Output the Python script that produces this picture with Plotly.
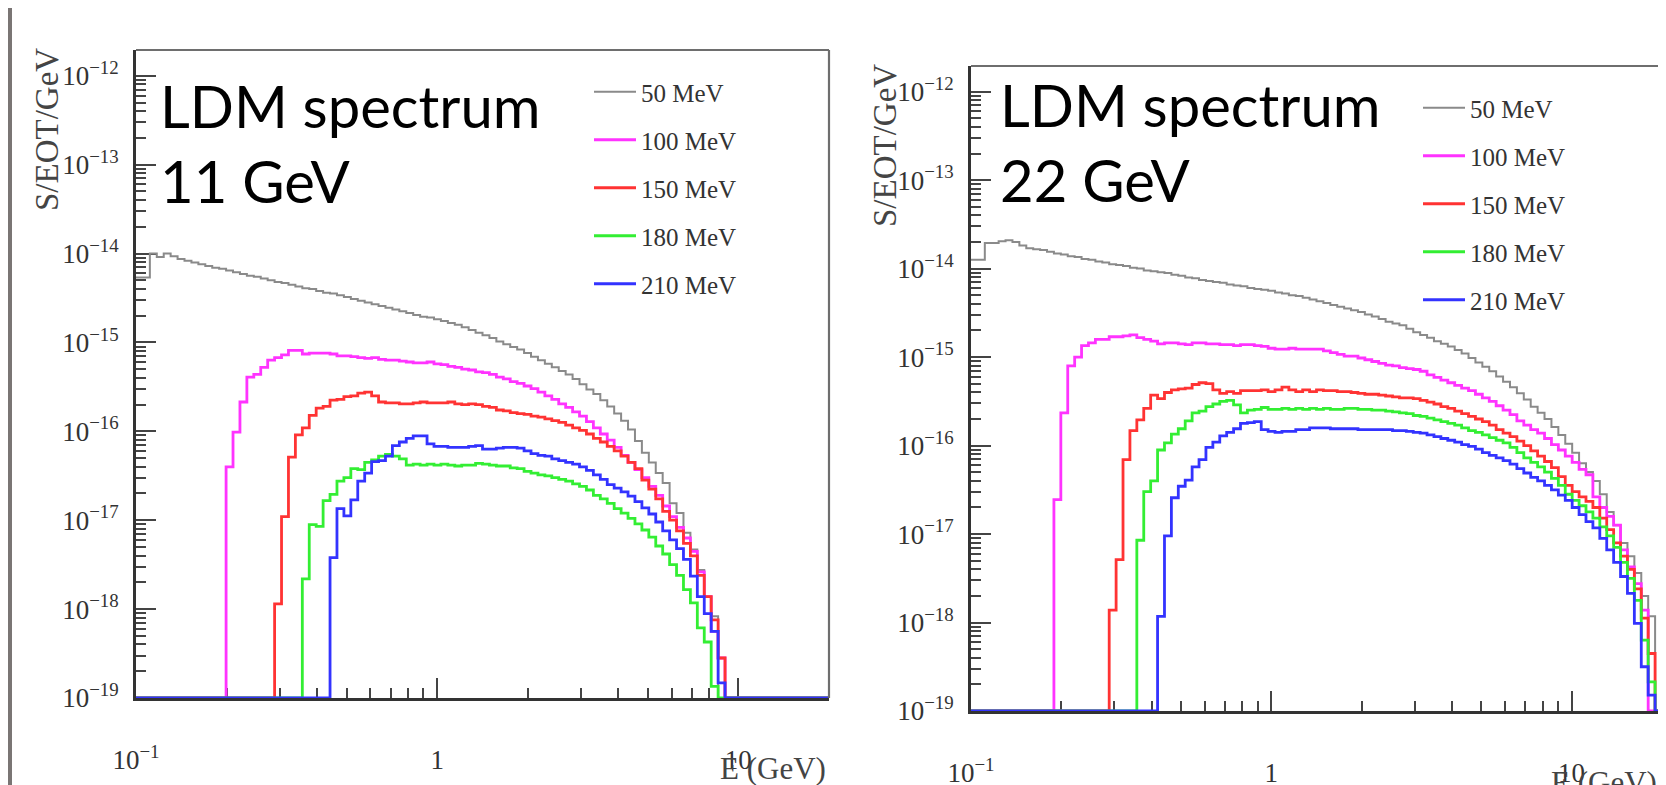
import numpy as np
import plotly.graph_objects as go

# ---------------- data (log10 of S/EOT/GeV per histogram bin) ----------------
E_MIN, E_MAX, N_BINS = 0.1, 20.0, 100      # log-spaced energy bins (GeV)
FLOOR = 1e-19                               # empty bins are drawn on the frame bottom

labels = ["50 MeV", "100 MeV", "150 MeV", "180 MeV", "210 MeV"]
colors = ["#8a8a8a", "#ff33ff", "#ff3333", "#33ee33", "#3333ff"]

# ---- 11 GeV beam ----
start_11 = [0, 13, 20, 24, 28]
lg11_50 = [-14.27, -14.27, -14.00, -14.04, -14.00, -14.03, -14.06, -14.08, -14.10, -14.12,
           -14.14, -14.16, -14.17, -14.19, -14.21, -14.23, -14.25, -14.26, -14.28, -14.30,
           -14.32, -14.33, -14.35, -14.37, -14.39, -14.40, -14.42, -14.44, -14.45, -14.47,
           -14.49, -14.51, -14.53, -14.55, -14.57, -14.59, -14.61, -14.63, -14.65, -14.67,
           -14.69, -14.71, -14.72, -14.74, -14.76, -14.78, -14.80, -14.83, -14.86, -14.89,
           -14.92, -14.95, -14.99, -15.02, -15.05, -15.08, -15.12, -15.16, -15.20, -15.24,
           -15.28, -15.32, -15.36, -15.41, -15.47, -15.53, -15.58, -15.65, -15.72, -15.80,
           -15.88, -15.98, -16.11, -16.24, -16.35, -16.47, -16.58, -16.81, -16.92, -17.14,
           -17.33, -17.56, -17.86, -18.08]
lg11_100 = [-16.40, -16.01, -15.67, -15.39, -15.36, -15.28, -15.20, -15.17, -15.14, -15.09,
            -15.09, -15.13, -15.12, -15.12, -15.12, -15.13, -15.15, -15.15, -15.16, -15.17,
            -15.18, -15.17, -15.19, -15.20, -15.20, -15.21, -15.22, -15.23, -15.23, -15.22,
            -15.24, -15.25, -15.27, -15.28, -15.30, -15.31, -15.33, -15.34, -15.36, -15.39,
            -15.41, -15.44, -15.46, -15.49, -15.52, -15.56, -15.60, -15.64, -15.69, -15.73,
            -15.78, -15.83, -15.89, -15.96, -16.03, -16.10, -16.18, -16.27, -16.35, -16.43,
            -16.52, -16.62, -16.72, -16.84, -16.96, -17.08, -17.20, -17.35, -17.58, -17.86,
            -18.25, -18.55]
lg11_150 = [-17.94, -16.96, -16.29, -16.04, -15.96, -15.82, -15.74, -15.72, -15.65, -15.64,
            -15.61, -15.60, -15.57, -15.56, -15.60, -15.67, -15.68, -15.68, -15.69, -15.69,
            -15.68, -15.67, -15.68, -15.68, -15.68, -15.67, -15.69, -15.70, -15.69, -15.70,
            -15.72, -15.73, -15.76, -15.77, -15.79, -15.80, -15.81, -15.83, -15.84, -15.86,
            -15.88, -15.90, -15.93, -15.96, -15.99, -16.03, -16.08, -16.12, -16.17, -16.22,
            -16.28, -16.35, -16.42, -16.55, -16.65, -16.76, -16.90, -17.00, -17.12, -17.26,
            -17.40, -17.62, -17.86, -18.12, -18.55]
lg11_180 = [-17.66, -17.05, -17.07, -16.78, -16.71, -16.56, -16.52, -16.42, -16.43, -16.35,
            -16.32, -16.28, -16.26, -16.28, -16.31, -16.38, -16.37, -16.38, -16.37, -16.38,
            -16.37, -16.38, -16.39, -16.38, -16.38, -16.36, -16.37, -16.38, -16.39, -16.39,
            -16.41, -16.42, -16.45, -16.47, -16.49, -16.50, -16.52, -16.54, -16.56, -16.59,
            -16.62, -16.66, -16.72, -16.76, -16.81, -16.87, -16.92, -16.98, -17.04, -17.11,
            -17.19, -17.29, -17.38, -17.50, -17.62, -17.78, -17.93, -18.21, -18.37, -18.87]
lg11_210 = [-17.42, -16.87, -16.95, -16.77, -16.56, -16.47, -16.34, -16.33, -16.28, -16.16,
            -16.12, -16.08, -16.05, -16.05, -16.14, -16.17, -16.17, -16.18, -16.18, -16.18,
            -16.17, -16.16, -16.20, -16.20, -16.19, -16.18, -16.18, -16.19, -16.22, -16.25,
            -16.27, -16.28, -16.31, -16.33, -16.35, -16.37, -16.40, -16.44, -16.49, -16.54,
            -16.60, -16.64, -16.68, -16.73, -16.79, -16.86, -16.93, -17.02, -17.12, -17.22,
            -17.32, -17.44, -17.63, -17.86, -18.05, -18.25, -18.83]

# ---- 22 GeV beam ----
start_22 = [0, 12, 20, 24, 27]
lg22_50 = [-13.90, -13.90, -13.71, -13.71, -13.69, -13.68, -13.70, -13.74, -13.77, -13.78,
           -13.79, -13.81, -13.83, -13.84, -13.86, -13.87, -13.89, -13.90, -13.92, -13.93,
           -13.95, -13.96, -13.97, -13.99, -14.00, -14.02, -14.03, -14.04, -14.05, -14.07,
           -14.08, -14.10, -14.11, -14.13, -14.14, -14.15, -14.16, -14.18, -14.19, -14.20,
           -14.22, -14.23, -14.24, -14.25, -14.27, -14.28, -14.30, -14.31, -14.33, -14.35,
           -14.37, -14.39, -14.41, -14.43, -14.45, -14.47, -14.49, -14.52, -14.54, -14.57,
           -14.60, -14.62, -14.64, -14.68, -14.72, -14.75, -14.78, -14.82, -14.85, -14.88,
           -14.92, -14.96, -15.01, -15.06, -15.11, -15.16, -15.22, -15.28, -15.34, -15.41,
           -15.48, -15.56, -15.63, -15.70, -15.79, -15.88, -15.98, -16.08, -16.20, -16.30,
           -16.40, -16.55, -16.75, -16.90, -17.10, -17.25, -17.44, -17.70, -17.93]
lg22_100 = [-16.61, -15.63, -15.10, -15.00, -14.87, -14.84, -14.80, -14.80, -14.77, -14.77,
            -14.76, -14.75, -14.78, -14.80, -14.82, -14.85, -14.84, -14.84, -14.85, -14.86,
            -14.84, -14.84, -14.85, -14.85, -14.86, -14.86, -14.87, -14.86, -14.86, -14.87,
            -14.88, -14.90, -14.91, -14.91, -14.90, -14.91, -14.91, -14.91, -14.91, -14.93,
            -14.95, -14.97, -14.99, -14.99, -15.01, -15.03, -15.05, -15.07, -15.09, -15.10,
            -15.12, -15.13, -15.14, -15.16, -15.20, -15.23, -15.26, -15.29, -15.32, -15.35,
            -15.38, -15.42, -15.46, -15.50, -15.55, -15.60, -15.65, -15.72, -15.77, -15.82,
            -15.86, -15.92, -15.99, -16.05, -16.12, -16.19, -16.27, -16.33, -16.58, -16.70,
            -16.80, -16.90, -17.18, -17.37, -17.56, -17.86]
lg22_150 = [-17.86, -17.29, -16.16, -15.83, -15.71, -15.58, -15.43, -15.47, -15.40, -15.37,
            -15.36, -15.35, -15.31, -15.29, -15.30, -15.37, -15.41, -15.39, -15.41, -15.38,
            -15.38, -15.38, -15.37, -15.39, -15.37, -15.34, -15.37, -15.39, -15.37, -15.39,
            -15.37, -15.38, -15.38, -15.39, -15.39, -15.40, -15.41, -15.42, -15.42, -15.43,
            -15.44, -15.45, -15.46, -15.46, -15.47, -15.49, -15.51, -15.53, -15.56, -15.58,
            -15.61, -15.64, -15.67, -15.70, -15.73, -15.77, -15.82, -15.86, -15.90, -15.95,
            -16.00, -16.06, -16.12, -16.18, -16.25, -16.35, -16.45, -16.52, -16.58, -16.63,
            -16.70, -16.82, -16.95, -17.10, -17.25, -17.40, -17.62, -17.95, -18.35]
lg22_180 = [-17.07, -16.52, -16.40, -16.05, -15.97, -15.87, -15.81, -15.72, -15.63, -15.61,
            -15.56, -15.53, -15.50, -15.49, -15.54, -15.63, -15.60, -15.59, -15.57, -15.59,
            -15.59, -15.58, -15.59, -15.58, -15.59, -15.58, -15.59, -15.58, -15.59, -15.59,
            -15.58, -15.58, -15.59, -15.59, -15.60, -15.60, -15.61, -15.62, -15.63, -15.64,
            -15.66, -15.67, -15.69, -15.71, -15.73, -15.75, -15.77, -15.80, -15.83, -15.85,
            -15.88, -15.91, -15.94, -15.97, -16.02, -16.08, -16.14, -16.19, -16.24, -16.30,
            -16.37, -16.45, -16.55, -16.62, -16.68, -16.75, -16.82, -16.92, -17.02, -17.15,
            -17.32, -17.50, -17.75, -18.20, -18.67]
lg22_210 = [-17.93, -17.02, -16.59, -16.46, -16.39, -16.24, -16.16, -16.02, -15.96, -15.89,
            -15.85, -15.81, -15.75, -15.74, -15.73, -15.82, -15.84, -15.85, -15.84, -15.84,
            -15.82, -15.82, -15.80, -15.80, -15.80, -15.81, -15.81, -15.81, -15.81, -15.82,
            -15.82, -15.82, -15.82, -15.82, -15.83, -15.83, -15.84, -15.85, -15.86, -15.88,
            -15.90, -15.92, -15.94, -15.96, -15.99, -16.01, -16.04, -16.08, -16.11, -16.14,
            -16.17, -16.21, -16.26, -16.31, -16.36, -16.40, -16.45, -16.50, -16.56, -16.62,
            -16.70, -16.78, -16.86, -16.93, -17.05, -17.18, -17.32, -17.48, -17.67, -18.01,
            -18.50, -18.82]

panel_titles = ["LDM spectrum<br>11 GeV", "LDM spectrum<br>22 GeV"]
y_title = "S/EOT/GeV"
x_title = "E (GeV)"
y_decades = list(range(-19, -11))
x_major = [0.1, 1, 10]
x_major_text = ["10<sup>\u22121</sup>", "1", "10"]

# ---------------- figure ----------------
W, H = 1666, 785
OFF = 8          # the page body is offset by the browser's default margin
edges = np.logspace(np.log10(E_MIN), np.log10(E_MAX), N_BINS + 1)


def hist_vals(start, lg):
    v = np.full(N_BINS, FLOOR)
    v[start:start + len(lg)] = 10.0 ** np.array(lg)
    return list(v) + [v[-1]]


def px(xp):
    return (xp - OFF) / W


def py(yp):
    return 1 - (yp - OFF) / H


fig = go.Figure()
panels = [
    (start_11, [lg11_50, lg11_100, lg11_150, lg11_180, lg11_210], "x", "y", "legend"),
    (start_22, [lg22_50, lg22_100, lg22_150, lg22_180, lg22_210], "x2", "y2", "legend2"),
]
for p, (starts, series, xa, ya, lg) in enumerate(panels):
    for i, (s, vals) in enumerate(zip(starts, series)):
        fig.add_trace(go.Scatter(
            x=edges, y=hist_vals(s, vals), mode="lines",
            line=dict(color=colors[i], width=2.8 if i else 2.0, shape="hv"),
            name=labels[i], xaxis=xa, yaxis=ya, legend=lg,
            legendgroup="p%d_%d" % (p, i), hoverinfo="skip"))

tick_font = dict(family="Liberation Serif", size=27, color="#333333")
ytickvals = [10.0 ** k for k in y_decades]
yticktext = ["10<sup>\u2212%d</sup>" % (-k) for k in y_decades]
yminor = [m * 10.0 ** k for k in y_decades[:-1] for m in range(2, 10)]
xminor = [m * 10.0 ** k for k in (-1, 0) for m in range(2, 10)]


def xaxis(dom, anchor):
    return dict(type="log", range=[np.log10(E_MIN), np.log10(E_MAX)], domain=dom,
                anchor=anchor, showline=True, mirror=False, linecolor="#333333", linewidth=2.8,
                ticks="inside", ticklen=20, tickwidth=1.5, tickcolor="#444444",
                tickvals=x_major, ticktext=x_major_text, tickfont=tick_font,
                ticklabelstandoff=36, automargin=False,
                minor=dict(ticks="inside", ticklen=10, tickwidth=1.5, tickcolor="#444444",
                           tickvals=xminor),
                showgrid=False, zeroline=False, layer="below traces", fixedrange=True)


def yaxis(dom, anchor):
    return dict(type="log", range=[-19, -11.71], domain=dom, anchor=anchor,
                showline=True, mirror=False, linecolor="#333333", linewidth=2.8,
                ticks="inside", ticklen=20, tickwidth=1.5, tickcolor="#444444",
                tickvals=ytickvals, ticktext=yticktext, tickfont=tick_font,
                ticklabelstandoff=9, automargin=False,
                minor=dict(ticks="inside", ticklen=10, tickwidth=1.5, tickcolor="#444444",
                           tickvals=yminor),
                showgrid=False, zeroline=False, layer="below traces", fixedrange=True)


def frame_edges(xa, ya):
    # lighter top and right frame edges, as in the ROOT canvas
    ref = dict(xref="%s domain" % xa, yref="%s domain" % ya, type="line",
               line=dict(color="#6e6e6e", width=2.2))
    return [dict(ref, x0=0, x1=1, y0=1, y1=1), dict(ref, x0=1, x1=1, y0=0, y1=1)]


leg_font = dict(family="Liberation Serif", size=25, color="#333333")

fig.update_layout(
    width=W, height=H, margin=dict(l=0, r=0, t=0, b=0, autoexpand=False),
    paper_bgcolor="white", plot_bgcolor="white",
    xaxis=xaxis([px(136), px(829)], "y"),
    yaxis=yaxis([py(698), py(50)], "x"),
    xaxis2=xaxis([px(971), px(1662)], "y2"),
    yaxis2=yaxis([py(711), py(66)], "x2"),
    legend=dict(x=px(589), y=py(69), xanchor="left", yanchor="top",
                bgcolor="rgba(0,0,0,0)", font=leg_font, tracegroupgap=12.5, itemwidth=42),
    legend2=dict(x=px(1418), y=py(85), xanchor="left", yanchor="top",
                 bgcolor="rgba(0,0,0,0)", font=leg_font, tracegroupgap=12.5, itemwidth=42),
    shapes=[dict(type="rect", xref="paper", yref="paper", x0=0, x1=4 / W, y0=0, y1=1,
                 fillcolor="#7a7574", line=dict(width=0), layer="below")]
    + frame_edges("x", "y") + frame_edges("x2", "y2"),
)

title_font = dict(family="Lato", size=58, color="black")
axis_title_font = dict(family="Liberation Serif", size=33, color="#444444")
xtitle_font = dict(family="Liberation Serif", size=31, color="#444444")
fig.add_annotation(x=px(158), y=py(69), xref="paper", yref="paper", text=panel_titles[0],
                   showarrow=False, xanchor="left", yanchor="top", align="left", font=title_font)
fig.add_annotation(x=px(998), y=py(68), xref="paper", yref="paper", text=panel_titles[1],
                   showarrow=False, xanchor="left", yanchor="top", align="left", font=title_font)
fig.add_annotation(x=px(47), y=py(130), xref="paper", yref="paper", text=y_title, textangle=-90,
                   showarrow=False, xanchor="center", yanchor="middle", font=axis_title_font)
fig.add_annotation(x=px(885), y=py(146), xref="paper", yref="paper", text=y_title, textangle=-90,
                   showarrow=False, xanchor="center", yanchor="middle", font=axis_title_font)
fig.add_annotation(x=px(828), y=py(768), xref="paper", yref="paper", text=x_title,
                   showarrow=False, xanchor="right", yanchor="middle", font=xtitle_font)
fig.add_annotation(x=px(1659), y=py(782), xref="paper", yref="paper", text=x_title,
                   showarrow=False, xanchor="right", yanchor="middle", font=xtitle_font)

fig.write_html("out.html")
